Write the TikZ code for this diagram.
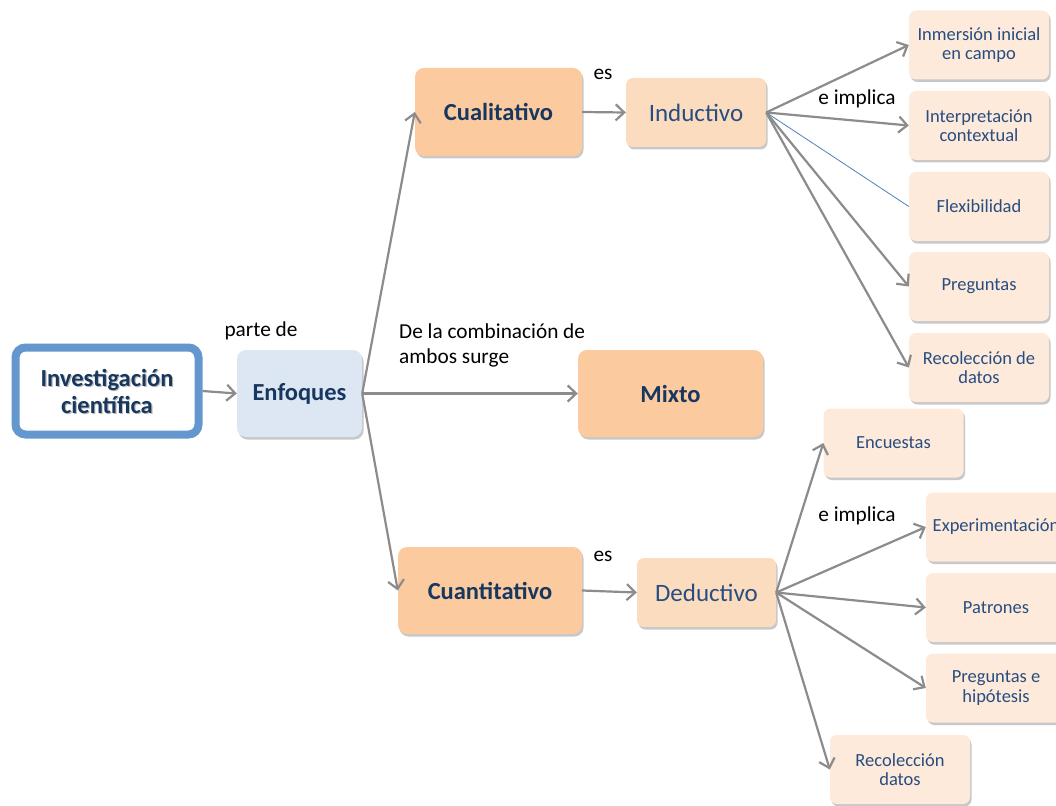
\documentclass[tikz,border=0pt]{standalone}
\usepackage{fontspec}
\setmainfont{Carlito}
\usetikzlibrary{arrows.meta,shadows}
\definecolor{tnavy}{HTML}{17375E}
\definecolor{tblue}{HTML}{284D80}
\definecolor{peachA}{HTML}{FBCB9F}
\definecolor{peachB}{HTML}{FCDCBF}
\definecolor{peachC}{HTML}{FDEADB}
\definecolor{lblue}{HTML}{DDE7F3}
\definecolor{bblue}{HTML}{6397CD}
\definecolor{agray}{HTML}{8C8C8C}
\definecolor{lineblue}{HTML}{4F81BD}
\begin{document}
\begin{tikzpicture}[x=1pt,y=-1pt,
  shad/.style={drop shadow={shadow xshift=1.5pt,shadow yshift=-2.5pt,opacity=0.3,fill=black!70}},
  box/.style={rounded corners=7pt, align=center, inner sep=2pt, shad},
  smallbox/.style={box, fill=peachC, minimum width=140pt, minimum height=69pt,
    font=\fontsize{18.5}{19.5}\selectfont, text=tblue},
  midbox/.style={box, fill=peachB, minimum width=140pt, minimum height=69pt,
    font=\fontsize{25}{27}\selectfont, text=tblue},
  bigbox/.style={box, rounded corners=9pt, fill=peachA, minimum height=87pt,
    font=\bfseries\fontsize{24.5}{27}\selectfont, text=tnavy},
  lbl/.style={font=\fontsize{21.3}{25}\selectfont, text=black, inner sep=0pt},
  arr/.style={draw=agray, line width=2.2pt, -{Straight Barb[length=8.5pt,width=16pt]}},
]
\useasboundingbox (0,0) rectangle (1056,805);
\fill[white] (0,0) rectangle (1056,805);

% main node
\node[draw=bblue, line width=8pt, rounded corners=10pt, fill=white,
      minimum width=183pt, minimum height=87pt, shad] (inv) at (107,391) {};
\node[align=center, font=\bfseries\fontsize{24.5}{27}\selectfont, text=black!45, opacity=0.6] (invs) at (108.2,392.5) {Investigación\\científica};
\node[align=center, font=\bfseries\fontsize{24.5}{27}\selectfont, text=tnavy] (invt) at (107,391) {Investigación\\científica};

\node[box, rounded corners=9pt, fill=lblue, minimum width=125pt, minimum height=87pt,
      font=\bfseries\fontsize{24.5}{27}\selectfont, text=tnavy] (enf) at (299.5,393.5) {Enfoques};

\node[bigbox, minimum width=167pt, minimum height=88pt] (cual) at (498.5,112) {Cualitativo};
\node[bigbox, minimum width=185pt] (mix) at (670.5,393.5) {Mixto};
\node[bigbox, minimum width=184pt] (cuan) at (490,590.5) {Cuantitativo};

\node[midbox] (ind) at (696,112.5) {Inductivo};
\node[midbox, minimum width=139pt] (ded) at (706.5,592.5) {Deductivo};

\node[smallbox] (inm) at (979,45) {Inmersión inicial\\en campo};
\node[smallbox] (intp) at (979,125.5) {Interpretación\\contextual};
\node[smallbox] (flex) at (979,206.5) {Flexibilidad};
\node[smallbox] (preg) at (979,286.5) {Preguntas};
\node[smallbox] (recq) at (979,367.5) {Recolección de\\datos};

\node[smallbox] (enc) at (893.5,443) {Encuestas};
\node[smallbox] (exp) at (996,527) {Experimentación};
\node[smallbox] (pat) at (996,607.5) {Patrones};
\node[smallbox] (ph) at (996,688) {Preguntas e\\hipótesis};
\node[smallbox] (recd) at (900,769.5) {Recolección\\datos};

% connectors
\draw[arr] (inv.east) -- (enf.west);
\draw[arr] (enf.east) -- (cual.west);
\draw[arr] (enf.east) -- (mix.west);
\draw[arr] (enf.east) -- (cuan.west);
\draw[arr] (cual.east) -- (ind.west);
\draw[arr] (cuan.east) -- (ded.west);

\draw[arr] (ind.east) -- (inm.west);
\draw[arr] (ind.east) -- (intp.west);
\draw[draw=lineblue, line width=0.8pt] (ind.east) -- (flex.west);
\draw[arr] (ind.east) -- (preg.west);
\draw[arr] (ind.east) -- (recq.west);

\draw[arr] (ded.east) -- (enc.west);
\draw[arr] (ded.east) -- (exp.west);
\draw[arr] (ded.east) -- (pat.west);
\draw[arr] (ded.east) -- (ph.west);
\draw[arr] (ded.east) -- (recd.west);

% labels
\node[lbl] (l1) at (261,331) {parte de};
\node[lbl, align=left, anchor=north west] (l2) at (399,323.5) {De la combinación de\\ambos surge};
\node[lbl] (l3) at (603,74) {es};
\node[lbl] (l4) at (857,99) {e implica};
\node[lbl] (l5) at (603,556) {es};
\node[lbl] (l6) at (857,516) {e implica};
\end{tikzpicture}
\end{document}
